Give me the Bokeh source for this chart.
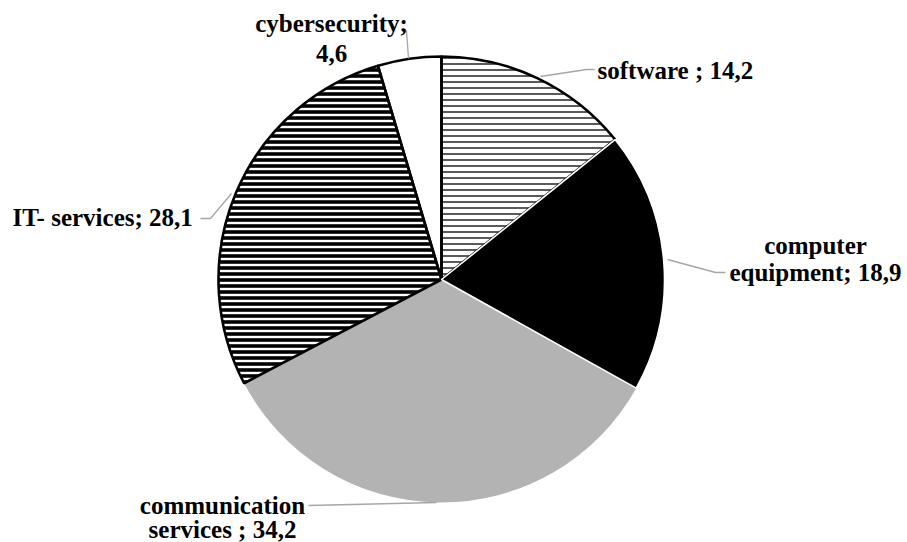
import math
from bokeh.plotting import figure
from bokeh.models import Range1d, ColumnDataSource
from bokeh.core.properties import value
from bokeh.embed import file_html
from bokeh.resources import INLINE

# ---- data ----
categories = ["software", "computer equipment", "communication services", "IT- services", "cybersecurity"]
shares = [14.2, 18.9, 34.2, 28.1, 4.6]
label_lines = [
    ["software ; 14,2"],
    ["computer", "equipment; 18,9"],
    ["communication", "services ; 34,2"],
    ["IT- services; 28,1"],
    ["cybersecurity;", "4,6"],
]

# ---- styles ----
fills = [None, "#000000", "#b3b3b3", None, "#ffffff"]
hatches = ["-", " ", " ", "-", " "]
hatch_weights = [1.3, 1, 1, 3.6, 1]

W, H = 907, 542
def sy(s):
    # screen y (px from top) -> data y
    return H - s

p = figure(width=W, height=H, output_backend="svg", toolbar_location=None,
           x_range=Range1d(0, W), y_range=Range1d(0, H),
           x_axis_location=None, y_axis_location=None, min_border=0)
p.grid.visible = False
p.outline_line_color = None
p.background_fill_color = "white"
p.border_fill_color = "white"

cx, cy, r = 441, sy(279), 223
total = sum(shares)
starts, ends = [], []
cum = 0.0
for v in shares:
    starts.append(math.pi / 2 - 2 * math.pi * cum / total)
    cum += v
    ends.append(math.pi / 2 - 2 * math.pi * cum / total)

# fills
for i in range(len(shares)):
    p.wedge(x=cx, y=cy, radius=r, start_angle=starts[i], end_angle=ends[i],
            direction="clock",
            fill_color=fills[i] if fills[i] else "white",
            hatch_pattern=hatches[i], hatch_color="black",
            hatch_scale=6, hatch_weight=hatch_weights[i],
            line_color=None)

# black outlines for hatched / white slices
for i in [0, 3, 4]:
    p.wedge(x=cx, y=cy, radius=r, start_angle=starts[i], end_angle=ends[i],
            direction="clock", fill_color=None, line_color="black", line_width=2.6)

# white separators around the black slice
p.wedge(x=cx, y=cy, radius=r, start_angle=starts[1], end_angle=ends[1],
        direction="clock", fill_color=None, line_color="white", line_width=1.6)

# leader lines
leader_xs = [[540, 586, 594], [667, 715, 725], [436, 308], [231, 210, 200], [408, 406]]
leader_ys = [[76, 69, 69], [259, 272, 272], [502, 505], [193, 218, 218], [58, 30]]
p.multi_line(xs=leader_xs, ys=[[sy(v) for v in ys] for ys in leader_ys],
             line_color="#a6a6a6", line_width=1.3)

# labels
lab_x = [597, 815, 222, 12, 331]
lab_align = ["left", "center", "center", "left", "center"]
lab_base = [[70], [245, 272], [505, 529], [217], [23, 53]]
tx, ty, tt, ta = [], [], [], []
for i, lines in enumerate(label_lines):
    for j, line in enumerate(lines):
        tx.append(lab_x[i]); ty.append(sy(lab_base[i][j])); tt.append(line); ta.append(lab_align[i])
src = ColumnDataSource(dict(x=tx, y=ty, text=tt, align=ta))
p.text(x="x", y="y", text="text", text_align="align", source=src,
       text_font=value("Liberation Serif"), text_font_style="bold",
       text_font_size="25px", text_baseline="alphabetic", text_color="black")

open("out.html", "w").write(file_html(p, INLINE))
